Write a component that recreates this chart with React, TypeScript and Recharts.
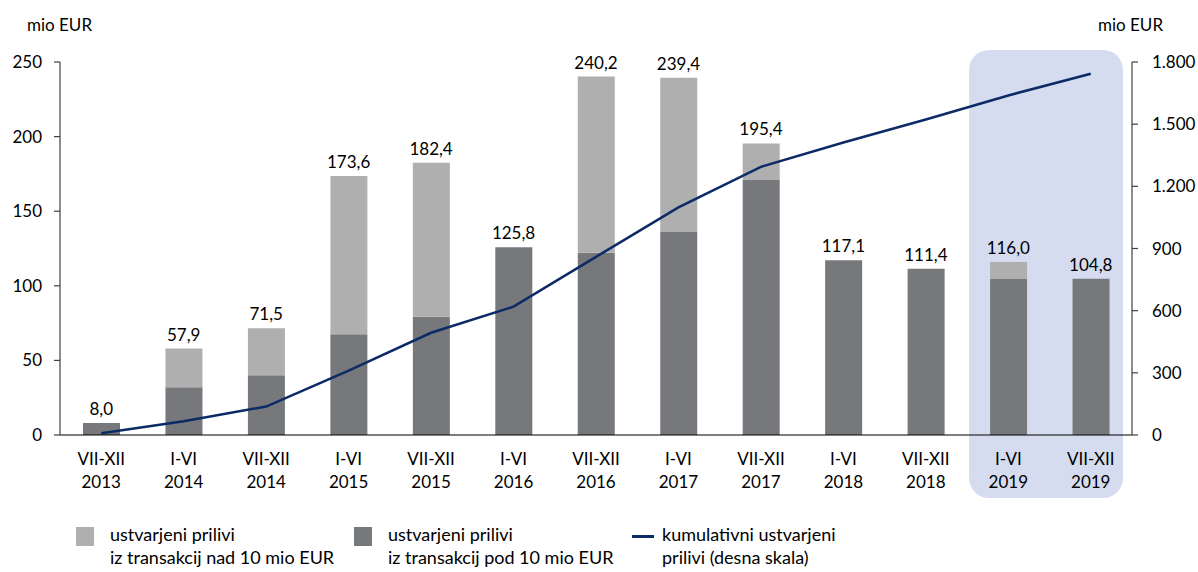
import React from 'react';
import {
  ComposedChart,
  Bar,
  Line,
  XAxis,
  YAxis,
  LabelList,
  ReferenceArea,
} from 'recharts';

const periods = ['VII-XII', 'I-VI', 'VII-XII', 'I-VI', 'VII-XII', 'I-VI', 'VII-XII', 'I-VI', 'VII-XII', 'I-VI', 'VII-XII', 'I-VI', 'VII-XII'];
const years = ['2013', '2014', '2014', '2015', '2015', '2016', '2016', '2017', '2017', '2018', '2018', '2019', '2019'];
// inflows from transactions under 10 mio EUR (dark)
const belowTen = [8.0, 32.0, 40.0, 67.5, 79.3, 125.8, 122.2, 136.0, 170.9, 117.1, 111.4, 104.5, 104.8];
// inflows from transactions above 10 mio EUR (light)
const aboveTen = [0, 25.9, 31.5, 106.1, 103.1, 0, 118.0, 103.4, 24.5, 0, 0, 11.5, 0];
const totals = [8.0, 57.9, 71.5, 173.6, 182.4, 125.8, 240.2, 239.4, 195.4, 117.1, 111.4, 116.0, 104.8];
const cumulative = [8.0, 65.9, 137.4, 311.0, 493.4, 619.2, 859.4, 1098.8, 1294.2, 1411.3, 1522.7, 1638.7, 1743.5];
const leftTicks = [0, 50, 100, 150, 200, 250];
const rightTicks = [0, 300, 600, 900, 1200, 1500, 1800];

const data = periods.map((p, i) => ({
  cat: `${p} ${years[i]}`,
  period: p,
  year: years[i],
  below: belowTen[i],
  above: aboveTen[i],
  total: totals[i],
  cum: cumulative[i],
}));

const FONT = 'Lato, "Open Sans", sans-serif';
const DARK = '#77787B';
const LIGHT = '#AFAFAF';
const NAVY = '#0B2A66';
const HILITE = '#D5DCEF';

const fmtComma = (v: number) => v.toFixed(1).replace('.', ',');
const fmtThousands = (v: number) => String(v).replace(/\B(?=(\d{3})+(?!\d))/g, '.');

const CatTick = (props: any) => {
  const { x, y, payload } = props;
  const d = data[payload.index];
  return (
    <g>
      <text x={x} y={y + 28} textAnchor="middle" fontSize={17} fill="#000" fontFamily={FONT}>
        {d.period}
      </text>
      <text x={x} y={y + 51} textAnchor="middle" fontSize={17} fill="#000" fontFamily={FONT}>
        {d.year}
      </text>
    </g>
  );
};

const HighlightShape = (props: any) => {
  const { x, y, width, height } = props;
  return (
    <rect
      x={x + 2}
      y={y - 12}
      width={width - 11}
      height={height + 75}
      rx={20}
      ry={20}
      fill={HILITE}
    />
  );
};

const LegendSwatch = ({ color }: { color: string }) => (
  <div style={{ width: 18, height: 19, background: color, marginTop: 4, marginRight: 16, flex: 'none' }} />
);

export default function App() {
  return (
    <div style={{ position: 'absolute', left: 0, top: 0, width: 1198, height: 572, background: '#fff', fontFamily: FONT }}>
      <ComposedChart
        width={1198}
        height={572}
        data={data}
        margin={{ top: 62, right: 0, left: 0, bottom: 77 }}
        barCategoryGap={0}
      >
        <ReferenceArea
          x1="I-VI 2019"
          x2="VII-XII 2019"
          yAxisId="left"
          ifOverflow="visible"
          shape={<HighlightShape />}
        />
        <XAxis
          dataKey="cat"
          height={60}
          tickLine={false}
          tickSize={0}
          interval={0}
          axisLine={{ stroke: '#000', strokeWidth: 1.2 }}
          tick={<CatTick />}
        />
        <YAxis
          yAxisId="left"
          orientation="left"
          width={60}
          domain={[0, 250]}
          ticks={leftTicks}
          interval={0}
          tickSize={6}
          tickMargin={12}
          axisLine={{ stroke: '#404040', strokeWidth: 1.2 }}
          tickLine={{ stroke: '#404040', strokeWidth: 1.2 }}
          tick={{ fontSize: 17, fill: '#000', fontFamily: FONT }}
        />
        <YAxis
          yAxisId="right"
          orientation="right"
          width={66}
          domain={[0, 1800]}
          ticks={rightTicks}
          interval={0}
          tickSize={6}
          tickMargin={14}
          tickFormatter={fmtThousands}
          axisLine={{ stroke: '#404040', strokeWidth: 1.2 }}
          tickLine={{ stroke: '#404040', strokeWidth: 1.2 }}
          tick={{ fontSize: 17, fill: '#000', fontFamily: FONT, textAnchor: 'start' }}
        />
        <Bar dataKey="below" stackId="s" yAxisId="left" fill={DARK} barSize={37} isAnimationActive={false} />
        <Bar dataKey="above" stackId="s" yAxisId="left" fill={LIGHT} barSize={37} isAnimationActive={false} />
        <Line
          dataKey="total"
          yAxisId="left"
          stroke="none"
          dot={false}
          activeDot={false}
          legendType="none"
          isAnimationActive={false}
        >
          <LabelList
            dataKey="total"
            position="top"
            offset={8}
            formatter={(v: any) => fmtComma(Number(v))}
            style={{ fontSize: 17, fill: '#000', fontFamily: FONT }}
          />
        </Line>
        <Line
          dataKey="cum"
          yAxisId="right"
          type="linear"
          stroke={NAVY}
          strokeWidth={2.5}
          dot={false}
          activeDot={false}
          isAnimationActive={false}
        />
      </ComposedChart>

      <div style={{ position: 'absolute', left: 27, top: 14, fontSize: 17, color: '#000' }}>mio EUR</div>
      <div style={{ position: 'absolute', left: 1098, top: 14, fontSize: 17, color: '#000' }}>mio EUR</div>

      <div style={{ position: 'absolute', left: 76, top: 523, display: 'flex', fontSize: 18, lineHeight: '23px', color: '#000' }}>
        <LegendSwatch color={LIGHT} />
        <div>
          <div>ustvarjeni prilivi</div>
          <div>iz transakcij nad 10 mio EUR</div>
        </div>
      </div>
      <div style={{ position: 'absolute', left: 354, top: 523, display: 'flex', fontSize: 18, lineHeight: '23px', color: '#000' }}>
        <LegendSwatch color={DARK} />
        <div>
          <div>ustvarjeni prilivi</div>
          <div>iz transakcij pod 10 mio EUR</div>
        </div>
      </div>
      <div style={{ position: 'absolute', left: 632, top: 523, display: 'flex', fontSize: 18, lineHeight: '23px', color: '#000' }}>
        <div style={{ width: 22, height: 3, background: NAVY, marginTop: 12, marginRight: 8, flex: 'none' }} />
        <div>
          <div>kumulativni ustvarjeni</div>
          <div>prilivi (desna skala)</div>
        </div>
      </div>
    </div>
  );
}
